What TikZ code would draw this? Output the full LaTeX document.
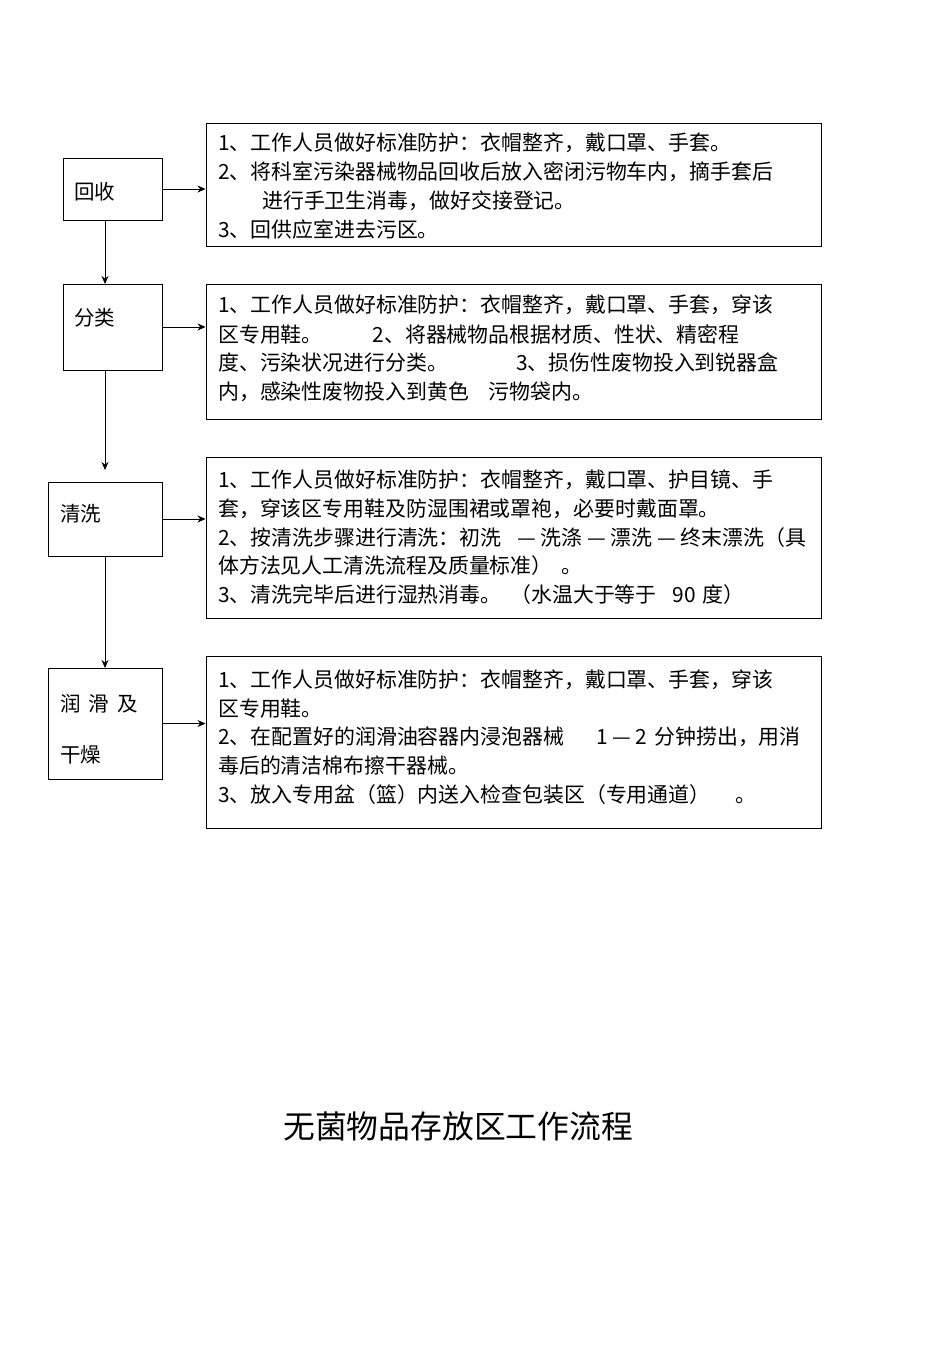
\documentclass[tikz,border=0pt]{standalone}
\usepackage{fontspec}
\setmainfont{Noto Sans CJK SC}
\usetikzlibrary{arrows.meta}
\begin{document}
\begin{tikzpicture}[x=1pt,y=-1pt,
  box/.style={draw,line width=1pt},
  ln/.style={anchor=west,inner sep=0pt,font=\fontsize{20.9pt}{22pt}\selectfont},
  lab/.style={anchor=west,inner sep=0pt,font=\fontsize{20.5pt}{22pt}\selectfont},
  arr/.style={-{Stealth[length=8pt,width=7pt]},line width=0.9pt}]
\useasboundingbox[fill=white] (0,0) rectangle (950,1345);
% left boxes
\node[box,minimum width=99pt,minimum height=62pt] (a) at (112.5,189) {};
\node[box,minimum width=99pt,minimum height=86pt] (b) at (112.5,327) {};
\node[box,minimum width=114pt,minimum height=74pt] (c) at (105,519) {};
\node[box,minimum width=114pt,minimum height=111pt] (d) at (105,723.5) {};
\node[lab] (at) at (74,192) {回收};
\node[lab] (bt) at (74,318) {分类};
\node[lab] (ct) at (60,514) {清洗};
\node[lab] (dt1) at (60,704) {润\hspace{8pt}滑\hspace{8pt}及};
\node[lab] (dt2) at (60,755) {干燥};
% right boxes
\node[box,minimum width=615pt,minimum height=123pt] (A) at (513.5,184.5) {};
\node[box,minimum width=615pt,minimum height=135pt] (B) at (513.5,351.5) {};
\node[box,minimum width=615pt,minimum height=161pt] (C) at (513.5,537.5) {};
\node[box,minimum width=615pt,minimum height=172pt] (D) at (513.5,742) {};
% arrows
\coordinate (s0) at (105,220);
\coordinate (t0) at (105,284);
\coordinate (m1) at (105,370);
\coordinate (t1) at (105,470);
\coordinate (m2) at (105,556);
\coordinate (t2) at (105,668);
\draw[arr] (s0) -- (t0);
\draw[arr] (m1) -- (t1);
\draw[arr] (m2) -- (t2);
\draw[arr] (a.east) -- (A.west|-a.east);
\draw[arr] (b.east) -- (B.west|-b.east);
\draw[arr] (c.east) -- (C.west|-c.east);
\draw[arr] (d.east) -- (D.west|-d.east);
% texts
\node[ln] at (218,143) {1、工作人员做好标准防护：衣帽整齐，戴口罩、手套。};
\node[ln] at (218,172) {2、将科室污染器械物品回收后放入密闭污物车内，摘手套后};
\node[ln] at (262,201) {进行手卫生消毒，做好交接登记。};
\node[ln] at (218,230) {3、回供应室进去污区。};
\node[ln] at (218,305) {1、工作人员做好标准防护：衣帽整齐，戴口罩、手套，穿该};
\node[ln] at (218,334) {区专用鞋。\hspace{50pt}2、将器械物品根据材质、性状、精密程};
\node[ln] at (218,363) {度、污染状况进行分类。\hspace{68pt}3、损伤性废物投入到锐器盒};
\node[ln] at (218,392) {内，感染性废物投入到黄色\hspace{20pt}污物袋内。};
\node[ln] at (218,480) {1、工作人员做好标准防护：衣帽整齐，戴口罩、护目镜、手};
\node[ln] at (218,509) {套，穿该区专用鞋及防湿围裙或罩袍，必要时戴面罩。};
\node[ln] at (218,538) {2、按清洗步骤进行清洗：初洗\hspace{16pt}— 洗涤 — 漂洗 — 终末漂洗（具};
\node[ln] at (218,566) {体方法见人工清洗流程及质量标准）\hspace{9pt}。};
\node[ln] at (218,595) {3、清洗完毕后进行湿热消毒。\hspace{9pt}（水温大于等于\hspace{16pt}90\hspace{7pt}度）};
\node[ln] at (218,680) {1、工作人员做好标准防护：衣帽整齐，戴口罩、手套，穿该};
\node[ln] at (218,709) {区专用鞋。};
\node[ln] at (218,737) {2、在配置好的润滑油容器内浸泡器械\hspace{32pt}1 — 2\hspace{7pt}分钟捞出，用消};
\node[ln] at (218,766) {毒后的清洁棉布擦干器械。};
\node[ln] at (218,795) {3、放入专用盆（篮）内送入检查包装区（专用通道）\hspace{25pt}。};
\node[anchor=west,inner sep=0pt,font=\fontsize{31.8pt}{33pt}\selectfont] (title) at (283,1126) {无菌物品存放区工作流程};
\end{tikzpicture}
\end{document}
